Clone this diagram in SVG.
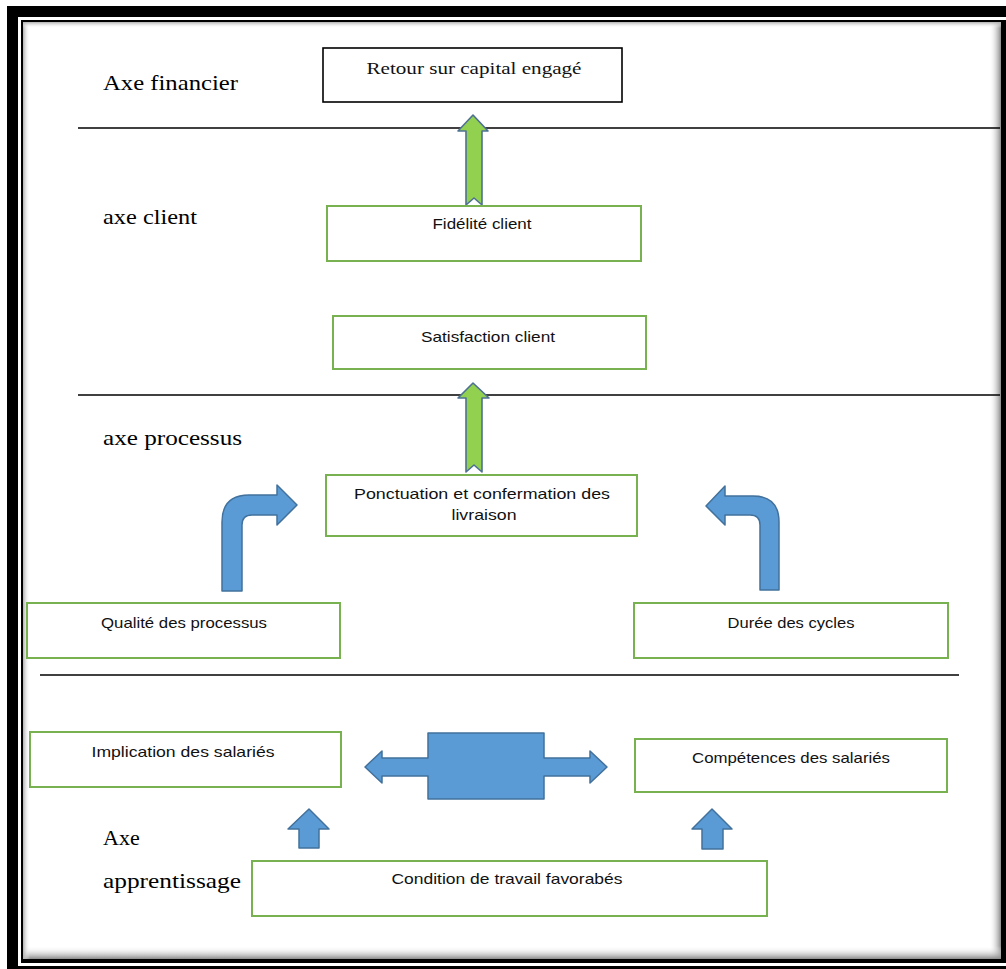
<svg xmlns="http://www.w3.org/2000/svg" width="1006" height="969" viewBox="0 0 1006 969">
  <style>
    .axis { font-family: "Liberation Serif", "DejaVu Serif", serif; font-size: 22px; fill: #000; }
    .lbl { font-family: "Liberation Sans", Arial, sans-serif; font-size: 15px; fill: #111; text-anchor: middle; }
    .slbl { font-family: "Liberation Serif", "DejaVu Serif", serif; font-size: 17px; fill: #111; text-anchor: middle; }
    .gbox { fill: #fff; stroke: #77B150; stroke-width: 2; }
    .kbox { fill: #fff; stroke: #000; stroke-width: 1.6; }
    .sep { stroke: #000; stroke-width: 1.6; }
    .blue { fill: #5B9BD5; stroke: #41719C; stroke-width: 1.5; stroke-linejoin: round; }
    .green { fill: #92D050; stroke: #4E7193; stroke-width: 1.6; stroke-linejoin: round; }
  </style>
  <defs>
    <linearGradient id="shR" x1="0" y1="0" x2="1" y2="0">
      <stop offset="0" stop-color="#fff" stop-opacity="0"/>
      <stop offset="1" stop-color="#8a8a8a"/>
    </linearGradient>
    <linearGradient id="shB" x1="0" y1="0" x2="0" y2="1">
      <stop offset="0" stop-color="#fff" stop-opacity="0"/>
      <stop offset="1" stop-color="#8a8a8a"/>
    </linearGradient>
    <linearGradient id="shL" x1="1" y1="0" x2="0" y2="0">
      <stop offset="0" stop-color="#fff" stop-opacity="0"/>
      <stop offset="1" stop-color="#b0b0b0"/>
    </linearGradient>
    <linearGradient id="shT" x1="0" y1="1" x2="0" y2="0">
      <stop offset="0" stop-color="#fff" stop-opacity="0"/>
      <stop offset="1" stop-color="#b0b0b0"/>
    </linearGradient>
  </defs>

  <!-- page and double frame -->
  <rect x="0" y="0" width="1006" height="969" fill="#fff"/>
  <g id="frame">
    <rect x="7" y="6" width="999" height="963" fill="#000"/>
    <rect x="18" y="17" width="988" height="949" fill="#fff"/>
    <rect x="21" y="20" width="985" height="943" fill="#000"/>
    <rect x="23" y="22" width="978" height="937" fill="#fff"/>
    <rect x="989" y="22" width="12" height="937" fill="url(#shR)"/>
    <rect x="23" y="946" width="978" height="13" fill="url(#shB)"/>
    <rect x="23" y="22" width="7" height="937" fill="url(#shL)"/>
    <rect x="23" y="22" width="978" height="6" fill="url(#shT)"/>
  </g>

  <!-- axis separators -->
  <g id="separators">
    <line class="sep" x1="78" y1="128" x2="1000" y2="128"/>
    <line class="sep" x1="78" y1="395" x2="1000" y2="395"/>
    <line class="sep" x1="40" y1="675" x2="959" y2="675"/>
  </g>

  <!-- axis titles -->
  <g id="axis-labels">
    <text class="axis" x="103" y="90" textLength="135" lengthAdjust="spacingAndGlyphs">Axe financier</text>
    <text class="axis" x="103" y="224" textLength="94" lengthAdjust="spacingAndGlyphs">axe client</text>
    <text class="axis" x="103" y="445" textLength="139" lengthAdjust="spacingAndGlyphs">axe processus</text>
    <text class="axis" x="103" y="845">Axe</text>
    <text class="axis" x="103" y="888" textLength="138" lengthAdjust="spacingAndGlyphs">apprentissage</text>
  </g>

  <!-- connectors -->
  <g id="connectors">
    <!-- Fidélité -> Retour -->
    <path class="green" d="M473,115 L488,131 L482,131 L482,205 L474,198 L466,205 L466,131 L458,131 Z"/>
    <!-- Ponctuation -> Satisfaction -->
    <path class="green" d="M473,383 L489,398 L482,398 L482,472 L474,465 L466,472 L466,398 L458,398 Z"/>
    <!-- Qualité -> Ponctuation -->
    <path class="blue" d="M222,591 L222,522 Q222,495 249,495 L277,495 L277,485 L297,505 L277,525 L277,515 L252,515 Q242,515 242,525 L242,591 Z"/>
    <!-- Durée -> Ponctuation -->
    <path class="blue" d="M779,590 L779,522 Q779,496 753,496 L725,496 L725,486 L706,506 L725,525 L725,515 L750,515 Q760,515 760,525 L760,590 Z"/>
    <!-- Implication <-> Compétences -->
    <path class="blue" d="M365,767 L382,751 L382,758 L428,758 L428,733 L544,733 L544,758 L590,758 L590,751 L607,767 L590,783 L590,776 L544,776 L544,799 L428,799 L428,776 L382,776 L382,783 Z"/>
    <!-- Condition -> Implication -->
    <path class="blue" d="M309,809 L329,829 L319,829 L319,848 L299,848 L299,829 L288,829 Z"/>
    <!-- Condition -> Compétences -->
    <path class="blue" d="M712,809 L732,829 L723,829 L723,849 L702,849 L702,829 L692,829 Z"/>
  </g>

  <!-- nodes -->
  <g id="node-retour">
    <rect class="kbox" x="323" y="48" width="299" height="54"/>
    <text class="slbl" x="474" y="74" textLength="215" lengthAdjust="spacingAndGlyphs">Retour sur capital engagé</text>
  </g>
  <g id="node-fidelite">
    <rect class="gbox" x="327" y="206" width="314" height="55"/>
    <text class="lbl" x="482" y="229" textLength="99" lengthAdjust="spacingAndGlyphs">Fidélité client</text>
  </g>
  <g id="node-satisfaction">
    <rect class="gbox" x="333" y="316" width="313" height="53"/>
    <text class="lbl" x="488" y="342" textLength="134" lengthAdjust="spacingAndGlyphs">Satisfaction client</text>
  </g>
  <g id="node-ponctuation">
    <rect class="gbox" x="326" y="475" width="311" height="61"/>
    <text class="lbl" x="482" y="499" textLength="256" lengthAdjust="spacingAndGlyphs">Ponctuation  et confermation  des</text>
    <text class="lbl" x="484" y="520" textLength="65" lengthAdjust="spacingAndGlyphs">livraison</text>
  </g>
  <g id="node-qualite">
    <rect class="gbox" x="27" y="603" width="313" height="55"/>
    <text class="lbl" x="184" y="628" textLength="166" lengthAdjust="spacingAndGlyphs">Qualité des processus</text>
  </g>
  <g id="node-duree">
    <rect class="gbox" x="634" y="603" width="314" height="55"/>
    <text class="lbl" x="791" y="628" textLength="127" lengthAdjust="spacingAndGlyphs">Durée des cycles</text>
  </g>
  <g id="node-implication">
    <rect class="gbox" x="30" y="732" width="311" height="55"/>
    <text class="lbl" x="183" y="757" textLength="183" lengthAdjust="spacingAndGlyphs">Implication des salariés</text>
  </g>
  <g id="node-competences">
    <rect class="gbox" x="635" y="739" width="312" height="53"/>
    <text class="lbl" x="791" y="763" textLength="198" lengthAdjust="spacingAndGlyphs">Compétences des salariés</text>
  </g>
  <g id="node-condition">
    <rect class="gbox" x="252" y="861" width="515" height="55"/>
    <text class="lbl" x="507" y="884" textLength="231" lengthAdjust="spacingAndGlyphs">Condition  de travail favorabés</text>
  </g>
</svg>
